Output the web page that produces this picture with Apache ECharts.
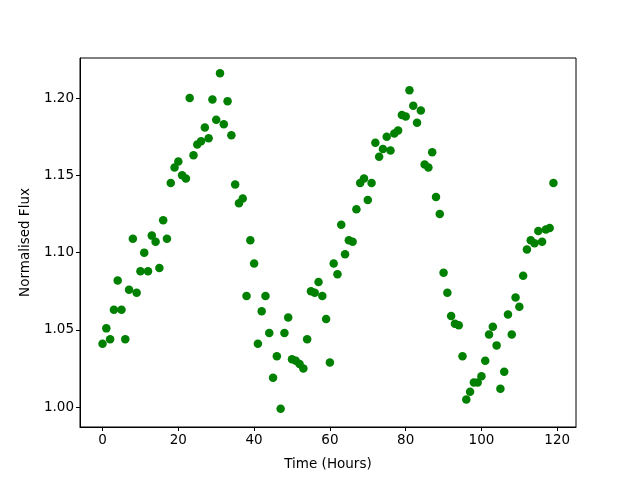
<!DOCTYPE html>
<html>
<head>
<meta charset="utf-8">
<script src="https://cdn.jsdelivr.net/npm/echarts@6/dist/echarts.min.js"></script>
<style>
  html, body { margin: 0; padding: 0; background: #fff; }
  #chart { width: 640px; height: 480px; }
</style>
</head>
<body>
<div id="chart"></div>
<script>
// time in hours, one sample per hour
var hours = [];
for (var i = 0; i < 120; i++) hours.push(i);

// normalised flux
var flux = [
  1.041, 1.051, 1.044, 1.063, 1.082, 1.063, 1.044, 1.076, 1.109, 1.074,
  1.088, 1.100, 1.088, 1.111, 1.107, 1.090, 1.121, 1.109, 1.145, 1.155,
  1.159, 1.150, 1.148, 1.200, 1.163, 1.170, 1.172, 1.181, 1.174, 1.199,
  1.186, 1.216, 1.183, 1.198, 1.176, 1.144, 1.132, 1.135, 1.072, 1.108,
  1.093, 1.041, 1.062, 1.072, 1.048, 1.019, 1.033, 0.999, 1.048, 1.058,
  1.031, 1.030, 1.028, 1.025, 1.044, 1.075, 1.074, 1.081, 1.072, 1.057,
  1.029, 1.093, 1.086, 1.118, 1.099, 1.108, 1.107, 1.128, 1.145, 1.148,
  1.134, 1.145, 1.171, 1.162, 1.167, 1.175, 1.166, 1.177, 1.179, 1.189,
  1.188, 1.205, 1.195, 1.184, 1.192, 1.157, 1.155, 1.165, 1.136, 1.125,
  1.087, 1.074, 1.059, 1.054, 1.053, 1.033, 1.005, 1.010, 1.016, 1.016,
  1.020, 1.030, 1.047, 1.052, 1.040, 1.012, 1.023, 1.060, 1.047, 1.071,
  1.065, 1.085, 1.102, 1.108, 1.106, 1.114, 1.107, 1.115, 1.116, 1.145
];

var xTicks = [0, 20, 40, 60, 80, 100, 120];
var yTicks = [1.00, 1.05, 1.10, 1.15, 1.20];

var points = hours.map(function (h, i) { return [h, flux[i]]; });

var chart = echarts.init(document.getElementById('chart'));

var font = 'DejaVu Sans';

chart.setOption({
  animation: false,
  backgroundColor: '#fff',
  grid: {
    left: 80, right: 64, top: 58, bottom: 53,
    show: true, borderColor: '#000', borderWidth: 1, backgroundColor: 'transparent'
  },
  xAxis: {
    type: 'value',
    min: -5.95,
    max: 124.95,
    name: 'Time (Hours)',
    nameLocation: 'middle',
    nameGap: 30,
    nameTextStyle: { fontFamily: font, fontSize: 13.5, color: '#000' },
    splitLine: { show: false },
    axisLine: { show: true, onZero: false, lineStyle: { color: '#000', width: 1 } },
    axisTick: { show: true, inside: false, length: 4, customValues: xTicks, lineStyle: { color: '#000' } },
    axisLabel: {
      customValues: xTicks, margin: 6, color: '#000',
      fontFamily: font, fontSize: 13.5
    }
  },
  yAxis: {
    type: 'value',
    min: 0.9872,
    max: 1.2259,
    name: 'Normalised Flux',
    nameLocation: 'middle',
    nameGap: 48,
    nameTextStyle: { fontFamily: font, fontSize: 13.5, color: '#000' },
    splitLine: { show: false },
    axisLine: { show: true, onZero: false, lineStyle: { color: '#000', width: 1 } },
    axisTick: { show: true, inside: false, length: 4, customValues: yTicks, lineStyle: { color: '#000' } },
    axisLabel: {
      customValues: yTicks, margin: 6, color: '#000',
      fontFamily: font, fontSize: 13.5,
      formatter: function (v) { return v.toFixed(2); }
    }
  },
  series: [{
    type: 'scatter',
    data: points,
    symbol: 'circle',
    symbolSize: 8.5,
    itemStyle: { color: '#008000', opacity: 1 }
  }]
});
</script>
</body>
</html>
